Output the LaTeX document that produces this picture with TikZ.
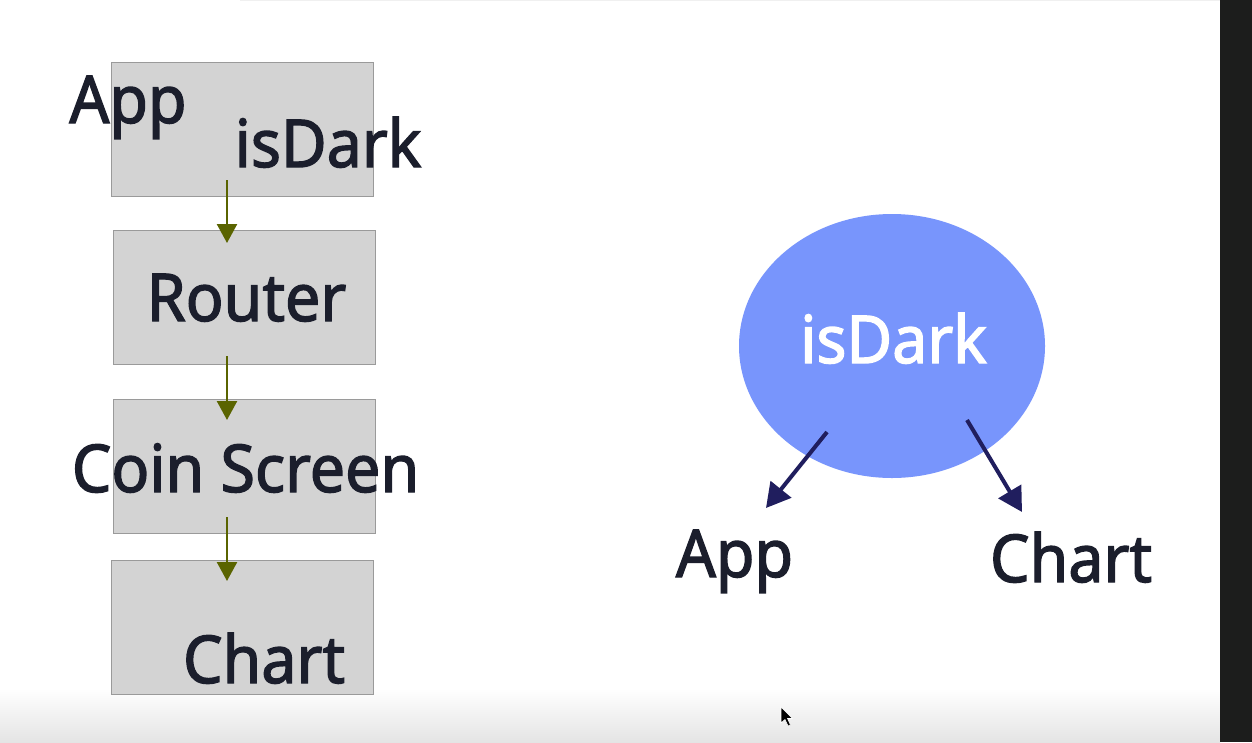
\documentclass[tikz,border=0pt]{standalone}
\usepackage{fontspec}
\setmainfont{Noto Sans}
\newfontfamily\lblfont[FakeBold=2,FakeStretch=0.95]{Noto Sans}
\usetikzlibrary{arrows.meta,shapes.geometric}
\definecolor{boxfill}{HTML}{D3D3D3}
\definecolor{boxline}{HTML}{9A9A9A}
\definecolor{olivearrow}{HTML}{5A6400}
\definecolor{navyarrow}{HTML}{201E5E}
\definecolor{txt}{HTML}{1B1E2C}
\definecolor{ellfill}{HTML}{7895FC}
\definecolor{sidebar}{HTML}{1C1D1C}
\tikzset{
  comp/.style={draw=boxline, line width=1pt, fill=boxfill, minimum width=262pt, minimum height=134pt, inner sep=0pt},
  lbl/.style={text=txt, inner sep=0pt, anchor=base, font=\lblfont\fontsize{66}{66}\selectfont},
  flow/.style={draw=olivearrow, line width=2.5pt, -{Triangle[width=20pt,length=19pt]}},
  use/.style={draw=navyarrow, line width=4pt, -{Triangle[width=26pt,length=24pt]}}
}
\begin{document}
\begin{tikzpicture}[x=1pt,y=-1pt]
\useasboundingbox (0,0) rectangle (1252,742);
\fill[white] (0,0) rectangle (1252,742);
\shade[top color=white, bottom color=gray!21] (0,688) rectangle (1220,742);
\draw[gray!12, line width=1.5pt] (240,0.5) -- (1220,0.5);
\fill[sidebar] (1220,0) rectangle (1252,742);

% left tree
\node[comp] (app) at (242,129) {};
\node[comp] (router) at (244,297.5) {};
\node[comp] (coin) at (244,466) {};
\node[comp] (chart) at (242,627) {};

\coordinate (a1s) at (227,180);
\coordinate (a1e) at (227,243);
\coordinate (a2s) at (227,356);
\coordinate (a2e) at (227,420);
\coordinate (a3s) at (227,517);
\coordinate (a3e) at (227,581);
\draw[flow] (a1s) -- (a1e);
\draw[flow] (a2s) -- (a2e);
\draw[flow] (a3s) -- (a3e);

\node[lbl] (tapp) at (128,123) {App};
\node[lbl] (tdark) at (328,167) {isDark};
\node[lbl] (trouter) at (246.5,321) {Router};
\node[lbl] (tcoin) at (245.5,492) {Coin Screen};
\node[lbl] (tchart) at (264,683) {Chart};

% right: context
\node[ellipse, fill=ellfill, minimum width=306pt, minimum height=264pt, inner sep=0pt] (ctx) at (892,346) {};
\node[lbl, text=white] (tctx) at (893.5,363) {isDark};
\node[lbl] (rapp) at (734.5,577) {App};
\node[lbl] (rchart) at (1071,582) {Chart};
\coordinate (b1s) at (827,432);
\coordinate (b1e) at (766,508);
\coordinate (b2s) at (967,420);
\coordinate (b2e) at (1022,512);
\draw[use] (b1s) -- (b1e);
\draw[use] (b2s) -- (b2e);

% cursor
\filldraw[fill=black, draw=white, line width=0.6pt] (781,707) -- (781,723) -- (785,719.5) -- (788,726) -- (790.5,725) -- (787.5,718.5) -- (792.5,718.5) -- cycle;
\end{tikzpicture}
\end{document}
